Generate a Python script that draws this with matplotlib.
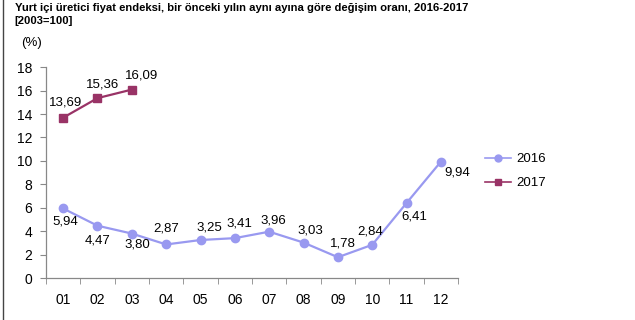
import matplotlib
matplotlib.use("Agg")
import matplotlib.pyplot as plt
from matplotlib.lines import Line2D

plt.rcParams['font.family'] = ['Liberation Sans', 'DejaVu Sans']

months = ["01", "02", "03", "04", "05", "06", "07", "08", "09", "10", "11", "12"]
values_2016 = [5.94, 4.47, 3.80, 2.87, 3.25, 3.41, 3.96, 3.03, 1.78, 2.84, 6.41, 9.94]
values_2017 = [13.69, 15.36, 16.09]
yticks = [0, 2, 4, 6, 8, 10, 12, 14, 16, 18]

title = "Yurt içi üretici fiyat endeksi, bir önceki yılın aynı ayına göre değişim oranı, 2016-2017\n[2003=100]"

# label offsets in pixels (dx, dy)
off_2016 = [(2, -13), (0, -15), (5, -11), (0, 16), (9, 13), (5, 15), (4, 11),
            (7, 12), (5, 14), (-2, 13), (8, -14), (16, -11)]
off_2017 = [(2, 15), (5, 14), (10, 14)]

c16 = "#9999F0"
c17 = "#993366"

fig = plt.figure(figsize=(6.35, 3.2), dpi=100)
ax = fig.add_axes([0.0724, 0.131, 0.649, 0.659])

x16 = list(range(len(values_2016)))
x17 = list(range(len(values_2017)))
ax.plot(x16, values_2016, color=c16, lw=1.6, marker='o', ms=6, mfc=c16, mec=c16)
ax.plot(x17, values_2017, color=c17, lw=1.6, marker='s', ms=5.5, mfc=c17, mec=c17)

def fmt(v):
    return f"{v:.2f}".replace(".", ",")

for xi, v, (dx, dy) in zip(x16, values_2016, off_2016):
    ax.annotate(fmt(v), (xi, v), xytext=(dx * 0.72, dy * 0.72), textcoords='offset points',
                ha='center', va='center', fontsize=9.5, color='black')
for xi, v, (dx, dy) in zip(x17, values_2017, off_2017):
    ax.annotate(fmt(v), (xi, v), xytext=(dx * 0.72, dy * 0.72), textcoords='offset points',
                ha='center', va='center', fontsize=9.5, color='black')

ax.set_xlim(-0.5, len(months) - 0.5)
ax.set_ylim(0, 18)
ax.set_yticks(yticks)
ax.set_yticklabels([str(t) for t in yticks], fontsize=10)
ax.set_xticks(x16)
ax.set_xticklabels(months, fontsize=10)
ax.set_xticks([i - 0.5 for i in range(len(months) + 1)], minor=True)
ax.tick_params(axis='x', which='major', length=0, pad=11)
ax.tick_params(axis='x', which='minor', length=4, color='#888888', direction='out')
ax.tick_params(axis='y', length=4, color='#888888', direction='out', pad=6)
for s in ['top', 'right']:
    ax.spines[s].set_visible(False)
for s in ['left', 'bottom']:
    ax.spines[s].set_color('#888888')
    ax.spines[s].set_linewidth(0.9)

handles = [Line2D([], [], color=c16, lw=1.2, marker='o', ms=5, mfc=c16, mec=c16),
           Line2D([], [], color=c17, lw=1.2, marker='s', ms=4.5, mfc=c17, mec=c17)]
fig.legend(handles, ["2016", "2017"], loc='center left', bbox_to_anchor=(0.745, 0.465),
           frameon=False, fontsize=9.5, handlelength=2.0, labelspacing=0.9, handletextpad=0.4)

fig.text(0.023, 0.99, title, ha='left', va='top', fontsize=8.1, fontweight='bold',
         linespacing=1.3)
fig.text(0.033, 0.865, "(%)", ha='left', va='center', fontsize=9.5)

fig.add_artist(Line2D([0.005, 0.005], [0, 1], color='#444444', lw=1, transform=fig.transFigure))

fig.savefig("out.png", dpi=100)
